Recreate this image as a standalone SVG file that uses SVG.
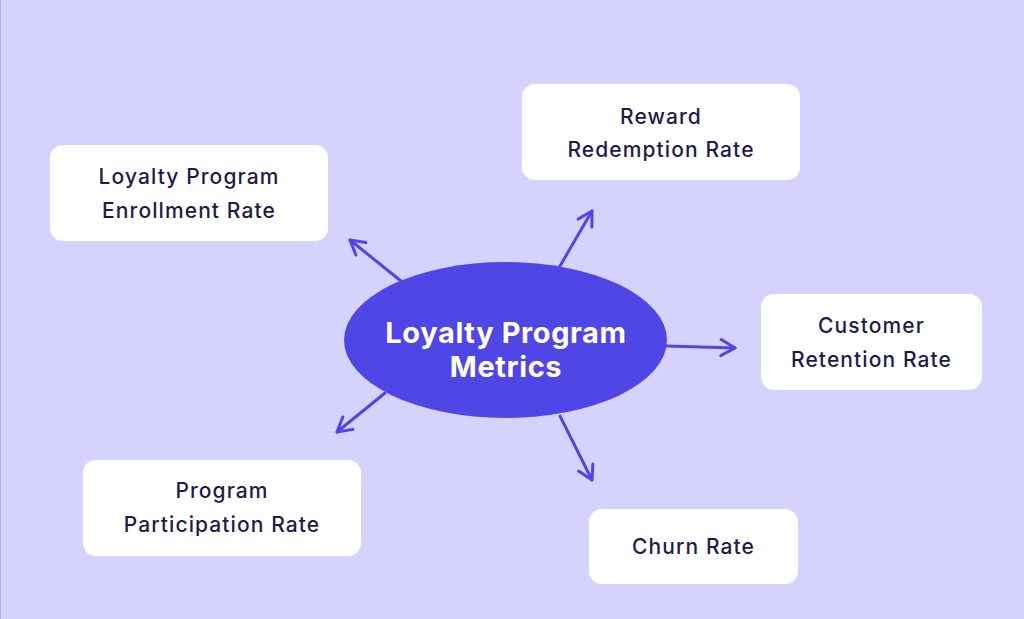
<svg xmlns="http://www.w3.org/2000/svg" width="1024" height="619" viewBox="0 0 1024 619">
<defs>
<style>
.box{fill:#ffffff}
.t{font-family:Inter,"Liberation Sans",sans-serif;font-size:21px;font-weight:500;fill:#1e1b4b;text-anchor:middle;letter-spacing:1.1px}
.c{font-family:Inter,"Liberation Sans",sans-serif;font-size:29px;font-weight:700;fill:#ffffff;text-anchor:middle;letter-spacing:0.6px}
.e{stroke:#4f46e5;stroke-width:3;fill:none;stroke-linecap:round;stroke-linejoin:round}
</style>
<marker id="ah" viewBox="0 0 20 20" refX="18" refY="10" markerWidth="20" markerHeight="20" markerUnits="userSpaceOnUse" orient="auto">
<path d="M4 2 L18 10 L4 18" fill="none" stroke="#4f46e5" stroke-width="3" stroke-linecap="round" stroke-linejoin="round"/>
</marker>
</defs>
<rect x="0" y="0" width="1024" height="619" fill="#d5d3fe"/>
<rect x="0" y="0" width="1" height="619" fill="#b8b6e0"/>
<g id="connectors">
<line class="e" x1="401" y1="281" x2="350" y2="240" marker-end="url(#ah)"/>
<line class="e" x1="560" y1="266" x2="592" y2="211" marker-end="url(#ah)"/>
<line class="e" x1="667" y1="346" x2="735" y2="348" marker-end="url(#ah)"/>
<line class="e" x1="385" y1="393" x2="337" y2="432" marker-end="url(#ah)"/>
<line class="e" x1="560" y1="416" x2="592" y2="480" marker-end="url(#ah)"/>
</g>
<g id="center">
<ellipse cx="505.5" cy="340" rx="161.5" ry="78" fill="#4f46e5"/>
<text class="c" x="506" y="343">Loyalty Program</text>
<text class="c" x="506" y="377">Metrics</text>
</g>
<g id="enrollment">
<rect class="box" x="50" y="145" width="278" height="96" rx="13"/>
<text class="t" x="189" y="184">Loyalty Program</text>
<text class="t" x="189" y="218">Enrollment Rate</text>
</g>
<g id="redemption">
<rect class="box" x="522" y="84" width="278" height="96" rx="13"/>
<text class="t" x="661" y="124">Reward</text>
<text class="t" x="661" y="157">Redemption Rate</text>
</g>
<g id="retention">
<rect class="box" x="761" y="294" width="221" height="96" rx="13"/>
<text class="t" x="871.5" y="333">Customer</text>
<text class="t" x="871.5" y="367">Retention Rate</text>
</g>
<g id="participation">
<rect class="box" x="83" y="460" width="278" height="96" rx="13"/>
<text class="t" x="222" y="498">Program</text>
<text class="t" x="222" y="532">Participation Rate</text>
</g>
<g id="churn">
<rect class="box" x="589" y="509" width="209" height="75" rx="13"/>
<text class="t" x="693.5" y="554">Churn Rate</text>
</g>
</svg>
